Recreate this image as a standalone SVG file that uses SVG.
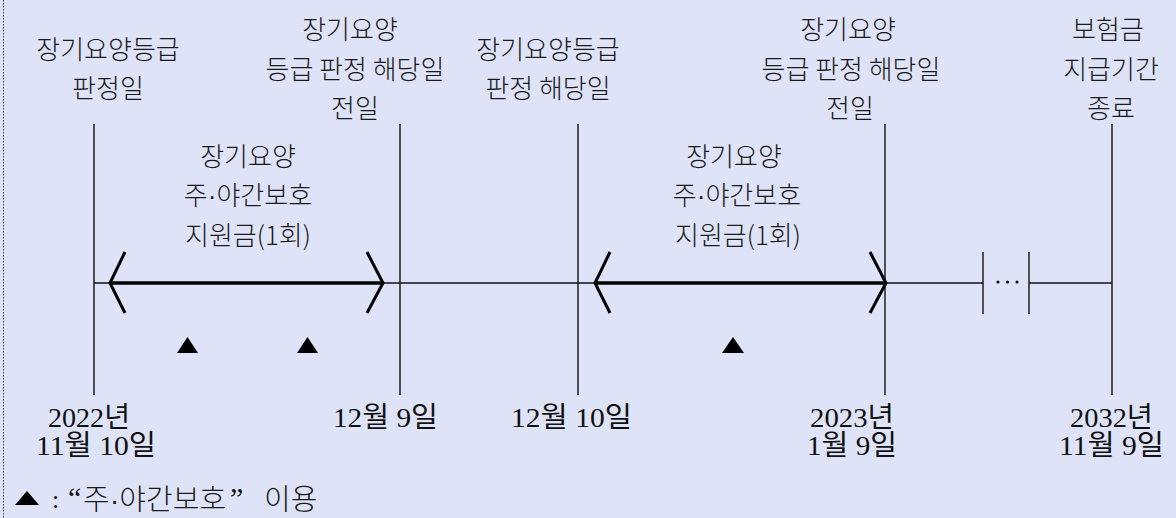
<svg xmlns="http://www.w3.org/2000/svg" width="1176" height="518" viewBox="0 0 1176 518">
<style>
.kr{font-family:"Noto Sans CJK KR","Noto Sans",sans-serif;font-size:26px;font-weight:300;fill:#1a1a1a;text-anchor:middle}
.dot{font-family:"Liberation Sans",sans-serif}
.dt{font-family:"Liberation Serif","Noto Sans CJK KR",serif;font-size:28px;fill:#111}
.vl{stroke:#111;stroke-width:1.4;fill:none}
.tl{stroke:#111;stroke-width:1.4;fill:none}
.thick{stroke:#000;stroke-width:3.5;fill:none}
.chev{stroke:#000;stroke-width:3;fill:none;stroke-linejoin:miter}
.tri{fill:#000}
.lg{font-family:"Noto Sans CJK KR",sans-serif;font-size:29px;font-weight:300;fill:#1a1a1a}
.q{font-family:"Liberation Serif",serif;font-size:30px;fill:#111}
</style>
<rect x="0" y="0" width="1176" height="518" fill="#dfe3f7"/>
<line x1="3.5" y1="0" x2="3.5" y2="518" stroke="#444" stroke-width="1" stroke-dasharray="1.5,1.5"/>

<g id="connectors">
  <line class="tl" x1="94" y1="283" x2="983" y2="283"/>
  <line class="tl" x1="1029" y1="283" x2="1112" y2="283"/>
  <line class="vl" x1="983" y1="252" x2="983" y2="314"/>
  <line class="vl" x1="1029" y1="252" x2="1029" y2="314"/>
  <circle cx="998" cy="282" r="1.6" fill="#111"/>
  <circle cx="1007.5" cy="282" r="1.6" fill="#111"/>
  <circle cx="1017" cy="282" r="1.6" fill="#111"/>
  <g id="span1">
    <line class="thick" x1="111" y1="283" x2="382" y2="283"/>
    <polyline class="chev" points="125,252 110,283 125,313"/>
    <polyline class="chev" points="367,252 383,283 367,313"/>
  </g>
  <g id="span2">
    <line class="thick" x1="596" y1="283" x2="885" y2="283"/>
    <polyline class="chev" points="610,252 595,283 610,313"/>
    <polyline class="chev" points="870,252 886,283 870,313"/>
  </g>
</g>

<g id="node-start">
  <line class="vl" x1="94" y1="124" x2="94" y2="395"/>
  <text class="kr" x="108" y="59">장기요양등급</text>
  <text class="kr" x="108" y="98">판정일</text>
  <text class="dt"><tspan x="48" y="427" textLength="82" lengthAdjust="spacingAndGlyphs">2022년</tspan><tspan x="36" y="455" textLength="120" lengthAdjust="spacingAndGlyphs">11월 10일</tspan></text>
</g>

<g id="node-end1">
  <line class="vl" x1="400" y1="124" x2="400" y2="395"/>
  <text class="kr" x="350" y="39">장기요양</text>
  <text class="kr" x="355" y="79">등급 판정 해당일</text>
  <text class="kr" x="355" y="118">전일</text>
  <text class="dt" x="333" y="427" textLength="105" lengthAdjust="spacingAndGlyphs">12월 9일</text>
</g>

<g id="node-start2">
  <line class="vl" x1="578" y1="124" x2="578" y2="395"/>
  <text class="kr" x="548" y="59">장기요양등급</text>
  <text class="kr" x="548" y="98">판정 해당일</text>
  <text class="dt" x="511" y="427" textLength="121" lengthAdjust="spacingAndGlyphs">12월 10일</text>
</g>

<g id="node-end2">
  <line class="vl" x1="885" y1="124" x2="885" y2="395"/>
  <text class="kr" x="848" y="39">장기요양</text>
  <text class="kr" x="851" y="79">등급 판정 해당일</text>
  <text class="kr" x="850" y="118">전일</text>
  <text class="dt"><tspan x="810" y="427" textLength="84" lengthAdjust="spacingAndGlyphs">2023년</tspan><tspan x="807" y="455" textLength="90" lengthAdjust="spacingAndGlyphs">1월 9일</tspan></text>
</g>

<g id="node-final">
  <line class="vl" x1="1112" y1="124" x2="1112" y2="395"/>
  <text class="kr" x="1108" y="39">보험금</text>
  <text class="kr" x="1111" y="79">지급기간</text>
  <text class="kr" x="1111" y="118">종료</text>
  <text class="dt"><tspan x="1070" y="427" textLength="83" lengthAdjust="spacingAndGlyphs">2032년</tspan><tspan x="1059" y="455" textLength="105" lengthAdjust="spacingAndGlyphs">11월 9일</tspan></text>
</g>

<g id="label-span1">
  <text class="kr" x="248" y="166">장기요양</text>
  <text class="kr" x="248" y="205">주<tspan class="dot">·</tspan>야간보호</text>
  <text class="kr" x="248" y="245">지원금(1회)</text>
</g>
<g id="label-span2">
  <text class="kr" x="734" y="166">장기요양</text>
  <text class="kr" x="737" y="205">주<tspan class="dot">·</tspan>야간보호</text>
  <text class="kr" x="738" y="245">지원금(1회)</text>
</g>

<g id="uses">
  <polygon class="tri" points="177,353 187.5,337 198,353"/>
  <polygon class="tri" points="297,353 307.5,337 318,353"/>
  <polygon class="tri" points="722,353 733,337 744,353"/>
</g>

<g id="legend">
  <polygon class="tri" points="15,505 27,491 39,505"/>
  <text x="52" y="508" font-family="Liberation Serif,serif" font-size="26" fill="#111">:</text>
  <text class="q" x="68" y="508">“</text>
  <text class="lg" x="83" y="510">주<tspan font-family="Liberation Sans,sans-serif">·</tspan>야간보호</text>
  <text class="q" x="230" y="508">”</text>
  <text class="lg" x="264" y="510">이용</text>
</g>
</svg>
